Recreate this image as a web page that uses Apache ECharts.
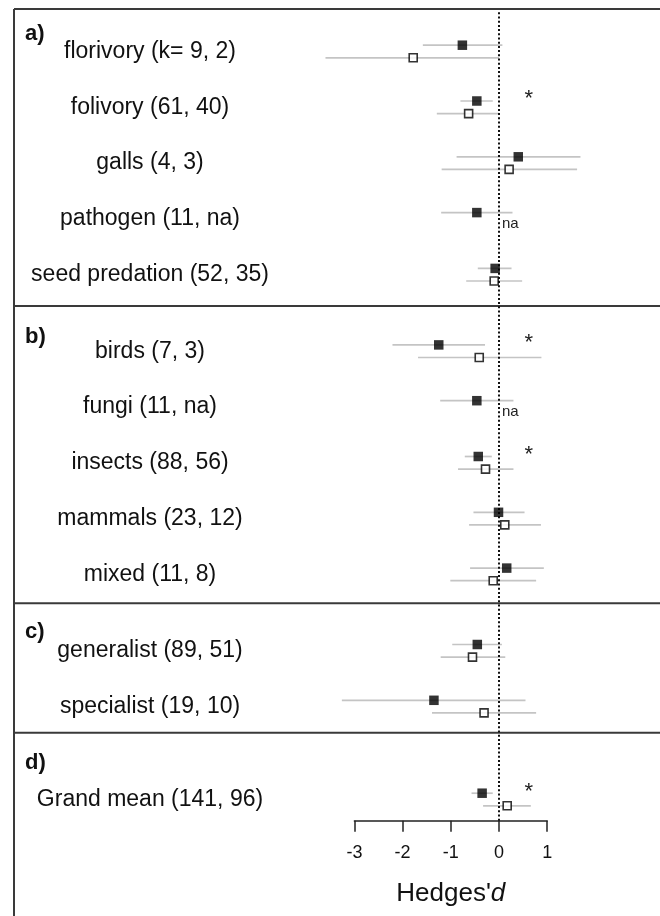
<!DOCTYPE html>
<html><head><meta charset="utf-8">
<script src="https://cdn.jsdelivr.net/npm/echarts@6/dist/echarts.min.js"></script>
<style>html,body{margin:0;padding:0;background:#fff}#c{width:660px;height:916px}</style>
</head><body><div id="c"></div>
<script>
// ---- data ----
const catsA = ['florivory (k= 9, 2)', 'folivory (61, 40)', 'galls (4, 3)', 'pathogen (11, na)', 'seed predation (52, 35)'];
const filledA   = [-0.76, -0.46, 0.40, -0.46, -0.08];
const filledLoA = [-1.58, -0.80, -0.88, -1.20, -0.44];
const filledHiA = [ 0.07, -0.13, 1.69, 0.28, 0.26];
const openA     = [-1.78, -0.63, 0.21, null, -0.10];
const openLoA   = [-3.60, -1.29, -1.19, null, -0.68];
const openHiA   = [ 0.00, 0.00, 1.62, null, 0.48];
const sigA      = [false, true, false, false, false];

const catsB = ['birds (7, 3)', 'fungi (11, na)', 'insects (88, 56)', 'mammals (23, 12)', 'mixed (11, 8)'];
const filledB   = [-1.25, -0.46, -0.43, -0.01, 0.16];
const filledLoB = [-2.21, -1.22, -0.71, -0.53, -0.60];
const filledHiB = [-0.29, 0.30, -0.15, 0.53, 0.93];
const openB     = [-0.41, null, -0.28, 0.12, -0.12];
const openLoB   = [-1.68, null, -0.85, -0.62, -1.01];
const openHiB   = [ 0.88, null, 0.30, 0.87, 0.77];
const sigB      = [true, false, true, false, false];

const catsC = ['generalist (89, 51)', 'specialist (19, 10)'];
const filledC   = [-0.45, -1.35];
const filledLoC = [-0.97, -3.26];
const filledHiC = [ 0.06, 0.55];
const openC     = [-0.55, -0.31];
const openLoC   = [-1.21, -1.39];
const openHiC   = [ 0.13, 0.77];
const sigC      = [false, false];

const catsD = ['Grand mean (141, 96)'];
const filledD   = [-0.35];
const filledLoD = [-0.57];
const filledHiD = [-0.13];
const openD     = [0.17];
const openLoD   = [-0.33];
const openHiD   = [0.66];
const sigD      = [true];

const panelLetters = ['a)', 'b)', 'c)', 'd)'];
const xTickMin = -3, xTickMax = 1, xTickStep = 1;
const axisTitle = "Hedges'";
const axisTitleItalic = 'd';
const sigMark = '*';
const naMark = 'na';
const sigValue = 0.62;

// ---- layout / style ----
const FONT = "'Liberation Sans', Arial, Helvetica, sans-serif";
const ZERO_X = 499, UNIT = 48.2, XMIN = -4, XMAX = 3;
const BAND = 55.8, OFF = 6.3;
const AXIS_Y = 820.7;
const panelTops = [23.6, 323.3, 622.9, 771.6];
const sepYs = [306, 603.3, 732.7];
const letterYs = [34, 337, 632, 763];

const panels = [
  {cats: catsA, f: filledA, fl: filledLoA, fh: filledHiA, o: openA, ol: openLoA, oh: openHiA, sig: sigA},
  {cats: catsB, f: filledB, fl: filledLoB, fh: filledHiB, o: openB, ol: openLoB, oh: openHiB, sig: sigB},
  {cats: catsC, f: filledC, fl: filledLoC, fh: filledHiC, o: openC, ol: openLoC, oh: openHiC, sig: sigC},
  {cats: catsD, f: filledD, fl: filledLoD, fh: filledHiD, o: openD, ol: openLoD, oh: openHiD, sig: sigD}
];

const gridLeft = ZERO_X + XMIN * UNIT;
const gridWidth = (XMAX - XMIN) * UNIT;

const grid = [], xAxis = [], yAxis = [], series = [];
const WHISKER = {stroke: '#c4c4c4', lineWidth: 1.7};

panels.forEach((p, k) => {
  grid.push({left: gridLeft, width: gridWidth, top: panelTops[k], height: BAND * p.cats.length});
  xAxis.push({type: 'value', gridIndex: k, min: XMIN, max: XMAX, show: false});
  yAxis.push({
    type: 'category', gridIndex: k, data: p.cats, inverse: true,
    axisLine: {show: false}, axisTick: {show: false}, splitLine: {show: false},
    axisLabel: {
      show: true, align: 'center', margin: gridLeft - 150,
      fontSize: 23, fontFamily: FONT, color: '#111', padding: [4, 0, 0, 0]
    }
  });
  // CI whiskers + annotations
  series.push({
    type: 'custom', xAxisIndex: k, yAxisIndex: k, z: 1, silent: true,
    data: p.cats.map((c, i) => [p.fl[i], i]),
    encode: {x: 0, y: 1},
    renderItem: function (params, api) {
      const i = params.dataIndex;
      const ch = [];
      const a = api.coord([p.fl[i], i]), b = api.coord([p.fh[i], i]);
      ch.push({type: 'line', shape: {x1: a[0], y1: a[1] - OFF, x2: b[0], y2: b[1] - OFF}, style: WHISKER});
      if (p.o[i] != null) {
        const c = api.coord([p.ol[i], i]), d = api.coord([p.oh[i], i]);
        ch.push({type: 'line', shape: {x1: c[0], y1: c[1] + OFF, x2: d[0], y2: d[1] + OFF}, style: WHISKER});
      } else {
        const z = api.coord([0, i]);
        ch.push({type: 'text', x: z[0] + 3, y: z[1] + OFF - 1,
          style: {text: naMark, fontSize: 15, fontFamily: FONT, fill: '#222', align: 'left', verticalAlign: 'middle'}});
      }
      if (p.sig[i]) {
        const s = api.coord([sigValue, i]);
        ch.push({type: 'text', x: s[0], y: s[1] - 8,
          style: {text: sigMark, fontSize: 22, fontFamily: FONT, fill: '#222', align: 'center', verticalAlign: 'middle'}});
      }
      return {type: 'group', children: ch};
    }
  });
  series.push({
    type: 'scatter', xAxisIndex: k, yAxisIndex: k, z: 5, silent: true,
    symbol: 'rect', symbolSize: 9.5, symbolOffset: [0, -OFF],
    itemStyle: {color: '#000'},
    data: p.f.map((v, i) => [v, i])
  });
  series.push({
    type: 'scatter', xAxisIndex: k, yAxisIndex: k, z: 5, silent: true,
    symbol: 'rect', symbolSize: 8, symbolOffset: [0, OFF],
    itemStyle: {color: '#fff', borderColor: '#000', borderWidth: 1.6},
    data: p.o.map((v, i) => (v == null ? null : [v, i])).filter(d => d)
  });
});

// bottom axis grid (index 4)
grid.push({left: ZERO_X + xTickMin * UNIT, width: (xTickMax - xTickMin) * UNIT, top: AXIS_Y - 20, height: 20});
xAxis.push({
  type: 'value', gridIndex: 4, min: xTickMin, max: xTickMax, interval: xTickStep, position: 'bottom',
  axisLine: {show: true, onZero: false, lineStyle: {color: '#222', width: 1.5}},
  axisTick: {show: true, length: 11, lineStyle: {color: '#222', width: 1.5}},
  axisLabel: {fontSize: 18, fontFamily: FONT, color: '#111', margin: 23},
  splitLine: {show: false},
  name: axisTitle + '{i|' + axisTitleItalic + '}', nameLocation: 'middle', nameGap: 60,
  nameTextStyle: {fontSize: 26, fontFamily: FONT, color: '#111',
    rich: {i: {fontStyle: 'italic', fontSize: 26, fontFamily: FONT, color: '#111'}}}
});
yAxis.push({type: 'value', gridIndex: 4, show: false});
series.push({type: 'scatter', xAxisIndex: 4, yAxisIndex: 4, data: []});

// full-height grid for the dotted zero line (index 5)
grid.push({left: gridLeft, width: gridWidth, top: 12, height: AXIS_Y - 12});
xAxis.push({type: 'value', gridIndex: 5, min: XMIN, max: XMAX, show: false});
yAxis.push({type: 'value', gridIndex: 5, min: 0, max: 1, show: false});
series.push({
  type: 'scatter', xAxisIndex: 5, yAxisIndex: 5, data: [], z: 3,
  markLine: {silent: true, symbol: ['none', 'none'], label: {show: false},
    lineStyle: {type: [2, 2.2], color: '#111', width: 2},
    data: [{xAxis: 0}]}
});

// frame and panel letters
const graphic = [];
const frameStyle = {stroke: '#3a3a3a', lineWidth: 2};
graphic.push({type: 'line', shape: {x1: 14, y1: 9, x2: 660, y2: 9}, style: frameStyle});
graphic.push({type: 'line', shape: {x1: 14, y1: 9, x2: 14, y2: 916}, style: frameStyle});
sepYs.forEach(y => graphic.push({type: 'line', shape: {x1: 14, y1: y, x2: 660, y2: y}, style: frameStyle}));
panelLetters.forEach((t, k) => graphic.push({type: 'text', x: 25, y: letterYs[k],
  style: {text: t, fontSize: 22, fontWeight: 'bold', fontFamily: FONT, fill: '#111', verticalAlign: 'middle'}}));

const chart = echarts.init(document.getElementById('c'), null, {renderer: 'canvas'});
chart.setOption({animation: false, backgroundColor: '#fff', grid, xAxis, yAxis, series, graphic});
</script></body></html>
